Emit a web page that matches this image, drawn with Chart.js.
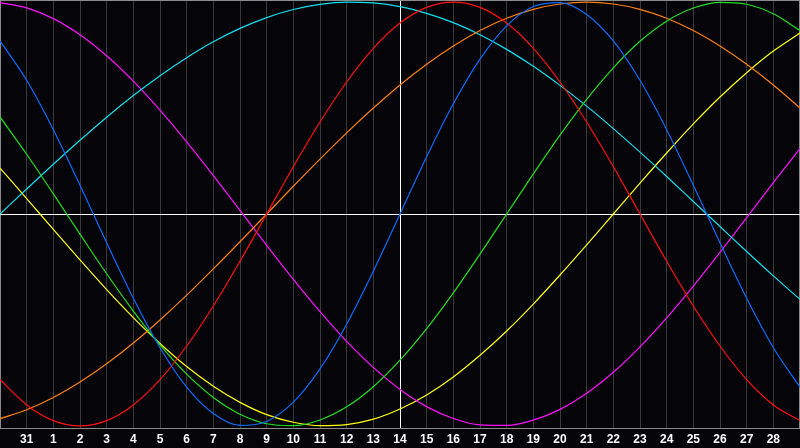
<!DOCTYPE html>
<html>
<head>
<meta charset="utf-8">
<title>Biorhythm</title>
<script src="https://cdn.jsdelivr.net/npm/chart.js@4/dist/chart.umd.min.js"></script>
<style>
    html, body { margin: 0; padding: 0; background: #050409; }
    #wrap { width: 800px; height: 448px; }
</style>
</head>
<body>
<div id="wrap"><canvas id="bioChart" width="800" height="448"></canvas></div>
<script>
// day labels, first and last are not printed
const days = ['30', '31', '1', '2', '3', '4', '5', '6', '7', '8', '9', '10', '11', '12', '13', '14',
    '15', '16', '17', '18', '19', '20', '21', '22', '23', '24', '25', '26', '27', '28', '29'];
const todayIndex = 15;

// values, in percent
const physical = [81.7, 63.1, 39.8, 13.6, -13.6, -39.8, -63.1, -81.7, -94.2, -99.8, -97.9, -88.8,
    -73.1, -52.0, -27.0, 0, 27.0, 52.0, 73.1, 88.8, 97.9, 99.8, 94.2, 81.7, 63.1, 39.8, 13.6,
    -13.6, -39.8, -63.1, -81.7];
const emotional = [-78.2, -90.1, -97.5, -100, -97.5, -90.1, -78.2, -62.3, -43.4, -22.3, 0, 22.3,
    43.4, 62.3, 78.2, 90.1, 97.5, 100, 97.5, 90.1, 78.2, 62.3, 43.4, 22.3, 0, -22.3, -43.4,
    -62.3, -78.2, -90.1, -97.5];
const intellectual = [45.8, 28.2, 9.5, -9.5, -28.2, -45.8, -61.8, -75.6, -86.6, -94.5, -99.0, -99.9,
    -97.2, -91.0, -81.5, -69.0, -54.1, -37.2, -18.9, 0, 18.9, 37.2, 54.1, 69.0, 81.5, 91.0, 97.2,
    99.9, 99.0, 94.5, 86.6];
const awareness = [-96.6, -92.4, -86.6, -79.3, -70.7, -60.9, -50.0, -38.3, -25.9, -13.1, 0, 13.1,
    25.9, 38.3, 50.0, 60.9, 70.7, 79.3, 86.6, 92.4, 96.6, 99.1, 100, 99.1, 96.6, 92.4, 86.6,
    79.3, 70.7, 60.9, 50.0];
const spiritual = [0, 11.8, 23.5, 34.8, 45.7, 55.9, 65.3, 73.8, 81.3, 87.6, 92.7, 96.5, 98.9,
    100.0, 99.6, 97.9, 94.7, 90.3, 84.6, 77.7, 69.7, 60.7, 50.9, 40.3, 29.2, 17.7, 5.9, -5.9,
    -17.7, -29.2, -40.3];
const intuitive = [99.8, 97.3, 92.2, 84.6, 74.7, 62.7, 49.0, 34.0, 18.1, 1.7, -14.8, -30.9, -46.1,
    -60.1, -72.4, -82.8, -90.9, -96.5, -99.5, -99.8, -97.3, -92.2, -84.6, -74.7, -62.7, -49.0,
    -34.0, -18.1, -1.7, 14.8, 30.9];
const aesthetic = [21.7, 7.3, -7.3, -21.7, -35.7, -48.9, -61.1, -72.0, -81.3, -88.9, -94.7, -98.3,
    -99.9, -99.4, -96.8, -92.0, -85.4, -76.9, -66.7, -55.2, -42.5, -28.8, -14.6, 0, 14.6, 28.8,
    42.5, 55.2, 66.7, 76.9, 85.4];

const seriesColors = ['#0a6cff', '#ff1010', '#20e020', '#ff8010', '#10e0f0', '#ff10ff', '#ffff10'];

// grey frame round the plot area and the white zero line
const framePlugin = {
    id: 'frame',
    beforeDatasetsDraw(chart) {
        const { ctx, chartArea, scales } = chart;
        ctx.save();
        ctx.lineWidth = 1;
        ctx.strokeStyle = '#8a8a8a';
        ctx.strokeRect(chartArea.left + 0.5, chartArea.top + 0.5,
            chartArea.right - chartArea.left - 1, chartArea.bottom - chartArea.top);
        const zeroY = Math.round(scales.y.getPixelForValue(0)) + 0.5;
        ctx.strokeStyle = '#ffffff';
        ctx.beginPath();
        ctx.moveTo(chartArea.left, zeroY);
        ctx.lineTo(chartArea.right, zeroY);
        ctx.stroke();
        ctx.restore();
    }
};

function makeSet(label, data, color) {
    return {
        label: label,
        data: data,
        borderColor: color,
        borderWidth: 1.2,
        pointRadius: 0,
        cubicInterpolationMode: 'monotone',
        fill: false
    };
}

new Chart(document.getElementById('bioChart'), {
    type: 'line',
    data: {
        labels: days,
        datasets: [
            makeSet('Physical', physical, seriesColors[0]),
            makeSet('Emotional', emotional, seriesColors[1]),
            makeSet('Intellectual', intellectual, seriesColors[2]),
            makeSet('Awareness', awareness, seriesColors[3]),
            makeSet('Spiritual', spiritual, seriesColors[4]),
            makeSet('Intuitive', intuitive, seriesColors[5]),
            makeSet('Aesthetic', aesthetic, seriesColors[6])
        ]
    },
    options: {
        responsive: false,
        animation: false,
        devicePixelRatio: 1,
        layout: { padding: 0 },
        plugins: {
            legend: { display: false },
            tooltip: { enabled: false }
        },
        scales: {
            x: {
                offset: false,
                afterFit: function (axis) {
                    axis.height = 20;
                    axis.paddingLeft = 0;
                    axis.paddingRight = 0;
                },
                grid: {
                    drawTicks: false,
                    color: function (context) {
                        if (context.index === todayIndex) return '#ffffff';
                        if (context.index === 0) return '#8a8a8a';
                        return '#3a3a3a';
                    }
                },
                border: { display: true, color: '#8a8a8a', width: 1 },
                ticks: {
                    autoSkip: false,
                    maxRotation: 0,
                    padding: 4,
                    color: '#ffffff',
                    font: { family: 'Liberation Sans', size: 12, weight: 'bold' },
                    callback: function (value, index) {
                        if (index === 0 || index === days.length - 1) return '';
                        return days[index];
                    }
                }
            },
            y: {
                display: false,
                min: -101,
                max: 101
            }
        }
    },
    plugins: [framePlugin]
});
</script>
</body>
</html>
